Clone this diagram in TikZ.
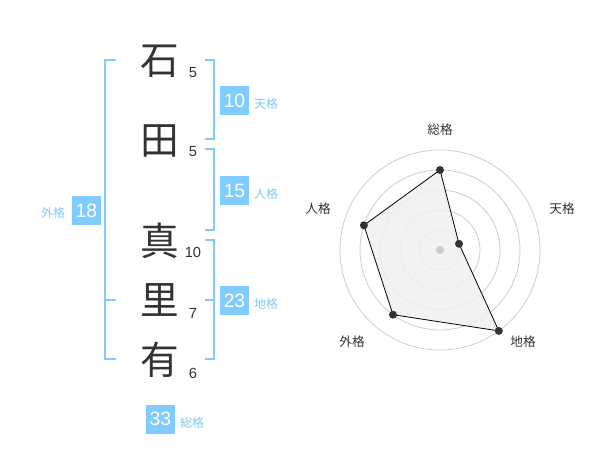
\documentclass[tikz,border=0pt]{standalone}
\usepackage{fontspec}
\newfontfamily\jp{Noto Sans CJK JP}
\newfontfamily\numf{Liberation Sans}
\definecolor{skyb}{HTML}{80CCFF}
\definecolor{skyt}{HTML}{80C8F2}
\definecolor{ink}{HTML}{333333}
\definecolor{ring}{HTML}{CCCCCC}
\definecolor{area}{HTML}{F0F0F0}
\begin{document}
\begin{tikzpicture}[x=0.75pt,y=-0.75pt,
  kanji/.style={inner sep=0pt,font=\jp\fontsize{29}{29}\selectfont,text=ink},
  strokes/.style={inner sep=0pt,font=\numf\fontsize{11}{11}\selectfont,text=ink},
  scorebox/.style={fill=skyb,minimum width=21.75pt,minimum height=21.75pt,inner sep=0pt,text=white,font=\numf\fontsize{14.5}{14.5}\selectfont},
  kaku/.style={inner sep=0pt,font=\jp\fontsize{9}{9}\selectfont,text=skyt},
  bracket/.style={draw=skyb,line width=1.5pt},
  radlab/.style={inner sep=0pt,font=\jp\fontsize{9.5}{9.5}\selectfont,text=ink},
  ringline/.style={draw=ring,line width=0.6pt},
  dot/.style={circle,fill=ink,inner sep=0pt,minimum size=6pt}]
\useasboundingbox (0,0) rectangle (600,470);
% characters
\node[kanji] (c1) at (160,61) {石};
\node[kanji] (c2) at (160,141) {田};
\node[kanji] (c3) at (160,241) {真};
\node[kanji] (c4) at (160,300) {里};
\node[kanji] (c5) at (160,360) {有};
\node[strokes] (s1) at (193,72.5) {5};
\node[strokes] (s2) at (193,152) {5};
\node[strokes] (s3) at (193,252.5) {10};
\node[strokes] (s4) at (193,313) {7};
\node[strokes] (s5) at (193,373) {6};
% brackets
\draw[bracket] (116,60) -- (105,60) -- (105,359) -- (116,359);
\draw[bracket] (105,300) -- (116,300);
\draw[bracket] (205,60) -- (214,60) -- (214,139) -- (205,139);
\draw[bracket] (205,149) -- (214,149) -- (214,230) -- (205,230);
\draw[bracket] (205,240) -- (214,240) -- (214,359) -- (205,359);
\draw[bracket] (205,300) -- (214,300);
% score boxes
\node[scorebox] (b18) at (86.5,210.5) {18};
\node[kaku] (l18) at (53,213) {外格};
\node[scorebox] (b10) at (234.5,100.5) {10};
\node[kaku] (l10) at (266,104) {天格};
\node[scorebox] (b15) at (234.5,190.5) {15};
\node[kaku] (l15) at (266,194) {人格};
\node[scorebox] (b23) at (234.5,300.5) {23};
\node[kaku] (l23) at (266,304) {地格};
\node[scorebox] (b33) at (160.5,419) {33};
\node[kaku] (l33) at (192,423) {総格};
% radar
\foreach \r in {20,40,60,80,100} \draw[ringline] (440,250) circle[radius=\r];
\coordinate (pS) at (440,170);
\coordinate (pT) at (459.0,243.8);
\coordinate (pC) at (498.8,330.9);
\coordinate (pG) at (393.0,314.7);
\coordinate (pJ) at (363.9,225.3);
\fill[area,opacity=0.85] (pS) -- (pT) -- (pC) -- (pG) -- (pJ) -- cycle;
\draw[black,line width=0.6pt] (pS) -- (pT) -- (pC) -- (pG) -- (pJ) -- cycle;
\node[circle,fill=ring,inner sep=0pt,minimum size=6pt] (ctr) at (440,250) {};
\node[dot] (dS) at (pS) {};
\node[dot] (dT) at (pT) {};
\node[dot] (dC) at (pC) {};
\node[dot] (dG) at (pG) {};
\node[dot] (dJ) at (pJ) {};
\node[radlab] (rS) at (440,130) {総格};
\node[radlab] (rT) at (562,208.5) {天格};
\node[radlab] (rJ) at (318,208.5) {人格};
\node[radlab] (rG) at (352,342) {外格};
\node[radlab] (rC) at (523,342) {地格};
\end{tikzpicture}
\end{document}
